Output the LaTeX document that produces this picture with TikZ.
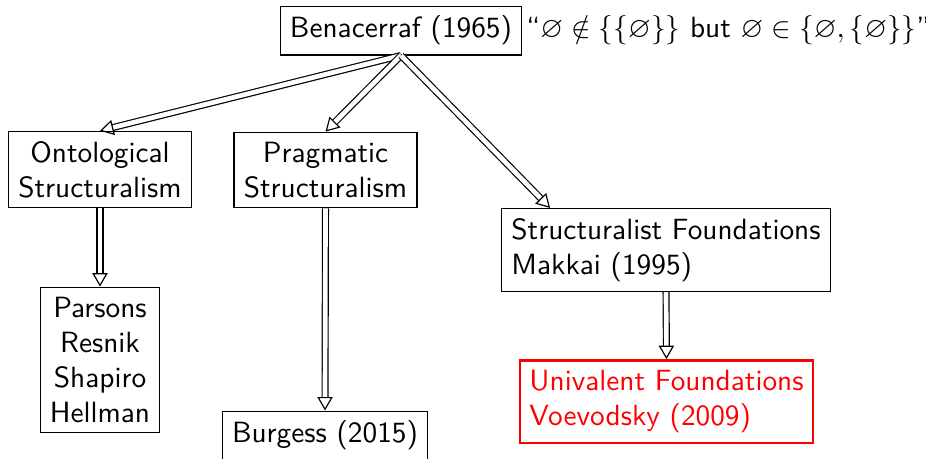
\documentclass[tikz,border=0pt]{standalone}
\usepackage{amssymb}
\usetikzlibrary{arrows.meta}
\newlength{\du}
\setlength{\du}{0.3413pt}
\definecolor{dialinecolor}{rgb}{0.000000, 0.000000, 0.000000}
\definecolor{diaredcolor}{rgb}{1.000000, 0.000000, 0.000000}
\tikzset{
  diabox/.style={draw=dialinecolor, inner sep=0.3333em, font=\sffamily},
  diaarrow/.style={draw=dialinecolor, double, double distance=1.6pt,
    -{Triangle[open,length=4.6pt,width=5.2pt]}},
}

\begin{document}
\begin{tikzpicture}
\pgftransformxscale{1.000000}
\pgftransformyscale{-1.000000}
\useasboundingbox (0\du,0\du) rectangle (926\du,458\du);
\node[diabox] (benacerraf) at (401\du,30.5\du){Benacerraf (1965)};
\node[anchor=west,inner xsep=1.2pt,font=\sffamily] (quote) at (benacerraf.east){``$\varnothing\notin\{\{\varnothing\}\}$ but $\varnothing\in\{\varnothing,\{\varnothing\}\}$''};
\node[diabox,align=center] (ontological) at (100\du,169.5\du){Ontological\\Structuralism};
\node[diabox,align=center] (pragmatic) at (325.5\du,170\du){Pragmatic\\Structuralism};
\node[diabox,align=left] (foundations) at (666\du,250\du){Structuralist Foundations\\Makkai (1995)};
\node[diabox,align=center] (parsons) at (100\du,360\du){Parsons\\Resnik\\Shapiro\\Hellman};
\node[diabox] (burgess) at (325\du,435.5\du){Burgess (2015)};
\node[diabox,draw=diaredcolor,text=diaredcolor,line width=0.8pt,align=left] (univalent) at (666.5\du,401.5\du){Univalent Foundations\\Voevodsky (2009)};
\coordinate (foundationsin) at ([xshift=49\du]foundations.north west);
% arrows
\draw[diaarrow] (benacerraf.south)--(ontological.north);
\draw[diaarrow] (benacerraf.south)--(pragmatic.north);
\draw[diaarrow] (benacerraf.south)--(foundationsin);
\draw[diaarrow] (ontological.south)--(parsons.north);
\draw[diaarrow] (pragmatic.south)--(burgess.north);
\draw[diaarrow] (foundations.south)--(univalent.north);
\end{tikzpicture}
\end{document}
